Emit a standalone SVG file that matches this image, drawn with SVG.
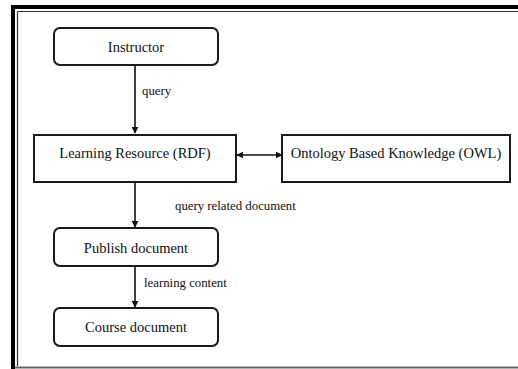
<svg xmlns="http://www.w3.org/2000/svg" width="518" height="369" viewBox="0 0 518 369">
  <style>
    .node { fill: #ffffff; stroke: #1a1a1a; stroke-width: 2; }
    .label { font-family: "Liberation Serif", "Times New Roman", serif; font-size: 14.5px; fill: #111; text-anchor: middle; }
    .edge-label { font-family: "Liberation Serif", "Times New Roman", serif; font-size: 12.8px; fill: #111; }
    .edge { stroke: #111; stroke-width: 1.6; fill: none; }
  </style>
  <defs>
    <marker id="arrow" viewBox="0 0 10 10" refX="9" refY="5" markerWidth="7" markerHeight="7" markerUnits="userSpaceOnUse" orient="auto-start-reverse">
      <path d="M0,0 L10,5 L0,10 Z" fill="#111"/>
    </marker>
  </defs>

  <!-- page frame -->
  <rect x="0" y="0" width="518" height="369" fill="#ffffff"/>
  <g id="frame">
    <line x1="11" y1="7" x2="518" y2="7" stroke="#000" stroke-width="4"/>
    <line x1="13" y1="5" x2="13" y2="369" stroke="#000" stroke-width="4"/>
    <line x1="17.5" y1="11.5" x2="518" y2="11.5" stroke="#333" stroke-width="1.2"/>
    <line x1="17.5" y1="11.5" x2="17.5" y2="366" stroke="#333" stroke-width="1.2"/>
    <line x1="15" y1="367.5" x2="518" y2="367.5" stroke="#666" stroke-width="2"/>
  </g>

  <!-- connectors -->
  <g id="connectors">
    <line class="edge" x1="135" y1="65" x2="135" y2="133" marker-end="url(#arrow)"/>
    <line class="edge" x1="237" y1="155" x2="282" y2="155" marker-start="url(#arrow)" marker-end="url(#arrow)"/>
    <line class="edge" x1="135" y1="182" x2="135" y2="227" marker-end="url(#arrow)"/>
    <line class="edge" x1="135" y1="266" x2="135" y2="307" marker-end="url(#arrow)"/>
    <text class="edge-label" x="142" y="95">query</text>
    <text class="edge-label" x="175" y="210">query related document</text>
    <text class="edge-label" x="144" y="287">learning content</text>
  </g>

  <g id="instructor">
    <rect class="node" x="54" y="28" width="164" height="37" rx="6"/>
    <text class="label" x="136" y="52">Instructor</text>
  </g>

  <g id="learning-resource">
    <rect class="node" x="34" y="135" width="202" height="47"/>
    <text class="label" x="135" y="158">Learning Resource (RDF)</text>
  </g>

  <g id="ontology">
    <rect class="node" x="282" y="135" width="228" height="47"/>
    <text class="label" x="396" y="158">Ontology Based Knowledge (OWL)</text>
  </g>

  <g id="publish-document">
    <rect class="node" x="54" y="228" width="164" height="38" rx="6"/>
    <text class="label" x="136" y="253">Publish document</text>
  </g>

  <g id="course-document">
    <rect class="node" x="54" y="308" width="164" height="38" rx="6"/>
    <text class="label" x="136" y="332">Course document</text>
  </g>
</svg>
